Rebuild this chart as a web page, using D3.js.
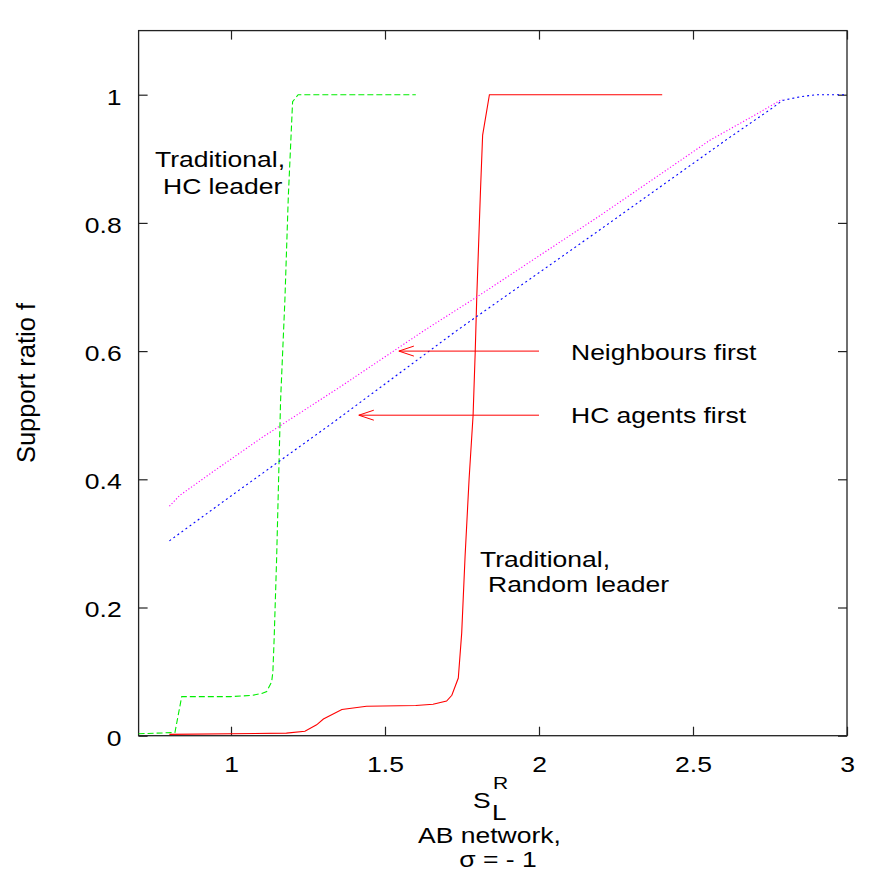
<!DOCTYPE html>
<html>
<head>
<meta charset="utf-8">
<script src="https://cdn.jsdelivr.net/npm/d3@7"></script>
<style>
body { margin: 0; background: #fff; }
text { font-family: "Liberation Sans", Arial, sans-serif; fill: #000; }
</style>
</head>
<body>
<script>
// tick labels
var xTicks = [1, 1.5, 2, 2.5, 3];
var yTicks = [0, 0.2, 0.4, 0.6, 0.8, 1];

// Traditional, HC leader (green dashed)
var greenX = [0.7, 0.818, 0.84, 1.0, 1.07, 1.1, 1.116, 1.132, 1.136, 1.14, 1.148, 1.161, 1.175, 1.186, 1.2, 1.218, 1.6];
var greenY = [0.003, 0.005, 0.061, 0.061, 0.063, 0.066, 0.069, 0.084, 0.1, 0.15, 0.274, 0.523, 0.68, 0.84, 0.989, 1, 1];

// Traditional, Random leader (red solid)
var redX = [0.8, 1.18, 1.24, 1.278, 1.3, 1.36, 1.44, 1.6, 1.656, 1.7, 1.717, 1.738, 1.749, 1.76, 1.773, 1.786, 1.793, 1.798, 1.81, 1.817, 1.839, 2.4];
var redY = [0.002, 0.004, 0.007, 0.017, 0.026, 0.041, 0.046, 0.047, 0.049, 0.054, 0.063, 0.09, 0.16, 0.28, 0.4, 0.5, 0.6, 0.685, 0.85, 0.937, 1, 1];

// Neighbours first (magenta dotted)
var magentaX = [0.8, 0.834, 0.942, 1.1, 1.354, 1.63, 1.8, 2.2, 2.555, 2.7, 2.79];
var magentaY = [0.358, 0.375, 0.412, 0.465, 0.544, 0.633, 0.685, 0.812, 0.929, 0.968, 0.993];

// HC agents first (blue dotted)
var blueX = [0.8, 1.0, 1.33, 1.733, 2.2, 2.615, 2.76, 2.79, 2.85, 2.9, 3.0];
var blueY = [0.304, 0.374, 0.488, 0.632, 0.79, 0.932, 0.98, 0.991, 0.997, 1.0, 1.0];

// arrows pointing at the two curves
var arrowY = [0.6, 0.5];
var arrowFrom = [2.0, 2.0];
var arrowTo = [1.545, 1.415];

var squash = 0.82; //glyphs in the picture are flatter than normal
var fontSize = 26.5;

var svg = d3.select("body").append("svg")
	.attr("width", 892)
	.attr("height", 872);

var x = d3.scaleLinear().domain([0.7, 3]).range([138.6, 847]);
var y = d3.scaleLinear().domain([0, 1.1]).range([735.7, 30.6]);

// axes, ticks pointing inward on all four sides
var bottomAxis = svg.append("g")
	.attr("transform", "translate(0," + y(0) + ")")
	.call(d3.axisBottom(x).tickValues(xTicks).tickSize(-9).tickFormat(d3.format("")));
var topAxis = svg.append("g")
	.attr("transform", "translate(0," + y(1.1) + ")")
	.call(d3.axisTop(x).tickValues(xTicks).tickSize(-9).tickFormat(""));
var leftAxis = svg.append("g")
	.attr("transform", "translate(" + x(0.7) + ",0)")
	.call(d3.axisLeft(y).tickValues(yTicks).tickSize(-9).tickFormat(d3.format("")));
var rightAxis = svg.append("g")
	.attr("transform", "translate(" + x(3) + ",0)")
	.call(d3.axisRight(y).tickValues(yTicks).tickSize(-9).tickFormat(""));

svg.selectAll(".domain").remove();
svg.selectAll(".tick line").attr("stroke", "#222").attr("stroke-width", 1.2);
svg.selectAll(".tick text")
	.attr("font-size", fontSize)
	.attr("font-family", "Liberation Sans, Arial, sans-serif")
	.attr("dy", 0);
bottomAxis.selectAll(".tick text")
	.attr("y", 36.3 / squash)
	.attr("transform", "scale(1," + squash + ")");
leftAxis.selectAll(".tick text")
	.attr("x", -17)
	.attr("y", 9.4 / squash)
	.attr("transform", "scale(1," + squash + ")");

// plot frame
svg.append("rect")
	.attr("x", x(0.7))
	.attr("y", y(1.1))
	.attr("width", x(3) - x(0.7))
	.attr("height", y(0) - y(1.1))
	.attr("fill", "none")
	.attr("stroke", "#222")
	.attr("stroke-width", 1.3);

var line = d3.line()
	.x(function (d) { return x(d[0]); })
	.y(function (d) { return y(d[1]); });

var series = [
	{ xs: greenX, ys: greenY, color: "#00ee00", dash: "6,3" },
	{ xs: redX, ys: redY, color: "#ff0000", dash: null },
	{ xs: magentaX, ys: magentaY, color: "#ff00ff", dash: "1.2,2" },
	{ xs: blueX, ys: blueY, color: "#0000ff", dash: "2,3" }
];

svg.selectAll("path.curve")
	.data(series)
	.enter()
	.append("path")
	.attr("class", "curve")
	.attr("d", function (d) { return line(d3.zip(d.xs, d.ys)); })
	.attr("fill", "none")
	.attr("stroke", function (d) { return d.color; })
	.attr("stroke-width", 1.1)
	.attr("stroke-dasharray", function (d) { return d.dash; });

// arrows
var arrows = svg.selectAll("g.arrow")
	.data(arrowY)
	.enter()
	.append("g")
	.attr("class", "arrow");
arrows.append("line")
	.attr("x1", function (d, i) { return x(arrowFrom[i]); })
	.attr("x2", function (d, i) { return x(arrowTo[i]); })
	.attr("y1", function (d) { return y(d); })
	.attr("y2", function (d) { return y(d); })
	.attr("stroke", "#ff0000")
	.attr("stroke-width", 1);
arrows.append("path")
	.attr("d", function (d, i) {
		var tx = x(arrowTo[i]), ty = y(d);
		return "M" + (tx + 15) + "," + (ty - 5) + "L" + tx + "," + ty + "L" + (tx + 15) + "," + (ty + 5);
	})
	.attr("fill", "none")
	.attr("stroke", "#ff0000")
	.attr("stroke-width", 1);

// squashed text helper
function label(px, py, txt, anchor) {
	return svg.append("text")
		.attr("transform", "translate(" + px + "," + py + ") scale(1," + squash + ")")
		.attr("font-size", fontSize)
		.attr("text-anchor", anchor || "start")
		.text(txt);
}

label(155, 167, "Traditional,");
label(163, 194, "HC leader");
label(480, 566.7, "Traditional,");
label(488, 592, "Random leader");
label(571, 360, "Neighbours first");
label(571, 423, "HC agents first");

// x axis title: S_L^R, then two lines
label(473, 808, "S");
label(493, 789, "R").attr("font-size", 21);
label(492, 820, "L").attr("font-size", 26);
label(489.5, 843, "AB network,", "middle");
label(498, 867, "\u03c3 = - 1", "middle");

// y axis title
svg.append("text")
	.attr("transform", "translate(35,383) rotate(-90)")
	.attr("font-size", 25.5)
	.attr("text-anchor", "middle")
	.text("Support ratio f");
</script>
</body>
</html>
